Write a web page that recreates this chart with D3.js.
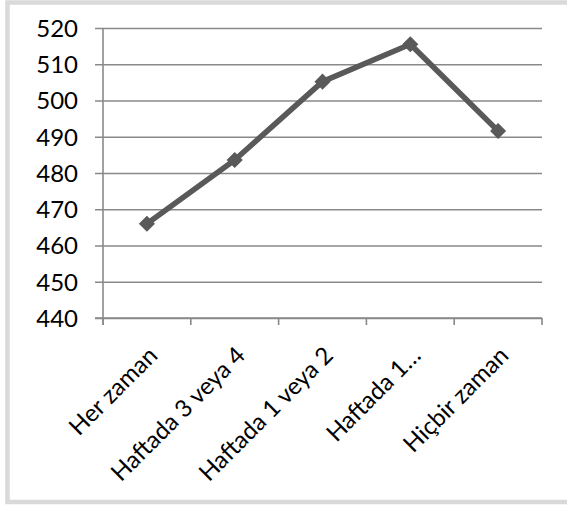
<!DOCTYPE html>
<html>
<head>
<meta charset="utf-8">
<script src="https://cdn.jsdelivr.net/npm/d3@7"></script>
<style>
  html, body { margin: 0; padding: 0; background: #fff; }
  svg { display: block; }
  text { font-family: Lato, "Open Sans", sans-serif; fill: #000; }
</style>
</head>
<body>
<svg id="chart" width="567" height="505"></svg>
<script>
const categories = ["Her zaman", "Haftada 3 veya 4", "Haftada 1 veya 2", "Haftada 1…", "Hiçbir zaman"];
const values = [466, 483.6, 505.2, 515.5, 491.6];
const yTicks = [440, 450, 460, 470, 480, 490, 500, 510, 520];

(function () {
const svg = d3.select("#chart");
const W = 567, H = 505;
const mLeft = 103, mRight = 542, mTop = 28, mBottom = 318;

// outer frame
svg.append("rect")
  .attr("x", 7.5).attr("y", 2.5)
  .attr("width", W + 10).attr("height", 499.5)
  .attr("fill", "#fff")
  .attr("stroke", "#d9d9d9").attr("stroke-width", 4.5);

const x = d3.scaleBand().domain(categories).range([mLeft, mRight]).padding(0);
const y = d3.scaleLinear().domain([440, 520]).range([mBottom, mTop]);

const gridColor = "#898989";

// gridlines + y axis
const yAxis = d3.axisLeft(y).tickValues(yTicks).tickSize(mRight - mLeft + 8).tickFormat(d3.format("d"));
const gy = svg.append("g").attr("transform", `translate(${mRight},0)`).call(yAxis);
gy.select(".domain").remove();
gy.selectAll(".tick line").attr("stroke", gridColor).attr("stroke-width", 1.6);
gy.selectAll(".tick text")
  .attr("font-size", 24).attr("font-family", "Lato, 'Open Sans', sans-serif")
  .attr("fill", "#000")
  .attr("x", -(mRight - 78))
  .attr("dy", "0.35em");

// y axis line
svg.append("line")
  .attr("x1", mLeft).attr("x2", mLeft)
  .attr("y1", mTop).attr("y2", mBottom + 7)
  .attr("stroke", gridColor).attr("stroke-width", 1.6);

// x axis
const gx = svg.append("g").attr("transform", `translate(0,${mBottom})`);
gx.append("line").attr("x1", mLeft - 8).attr("x2", mRight)
  .attr("stroke", gridColor).attr("stroke-width", 1.6);
const bounds = categories.map(c => x(c)).concat([x(categories[categories.length - 1]) + x.bandwidth()]);
gx.selectAll("line.tk").data(bounds).join("line").attr("class", "tk")
  .attr("x1", d => d).attr("x2", d => d).attr("y1", 0).attr("y2", 7)
  .attr("stroke", gridColor).attr("stroke-width", 1.6);
gx.selectAll("text.cat").data(categories).join("text").attr("class", "cat")
  .attr("transform", d => `translate(${x(d) + x.bandwidth() / 2 + 12},${39}) rotate(-45)`)
  .attr("text-anchor", "end")
  .attr("font-size", 24)
  .text(d => d);

// line
const cx = d => x(d) + x.bandwidth() / 2;
const pts = categories.map((c, i) => [cx(c), y(values[i])]);
svg.append("path")
  .attr("d", d3.line()(pts))
  .attr("fill", "none")
  .attr("stroke", "#595959")
  .attr("stroke-width", 5.5)
  .attr("stroke-linejoin", "round");

svg.selectAll("path.mk").data(pts).join("path").attr("class", "mk")
  .attr("d", d3.symbol(d3.symbolSquare, 130)())
  .attr("transform", d => `translate(${d[0]},${d[1]}) rotate(45)`)
  .attr("fill", "#595959");
})();
</script>
</body>
</html>
